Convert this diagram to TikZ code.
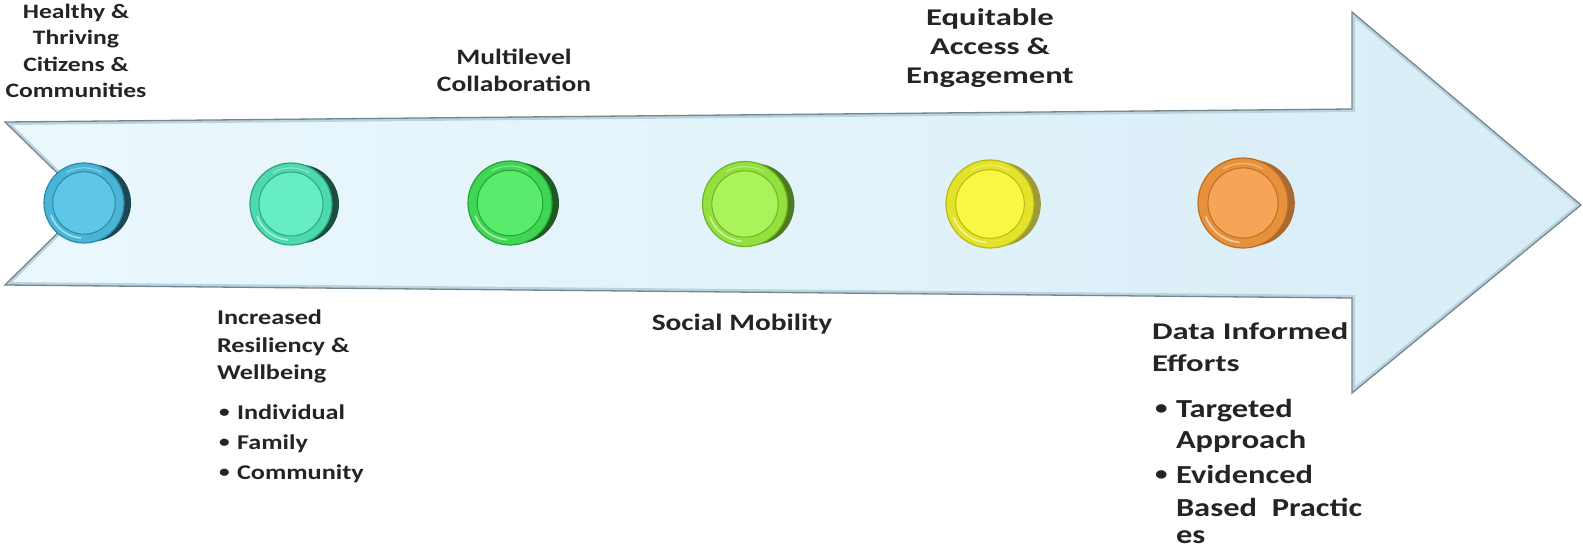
\documentclass[tikz,border=0pt]{standalone}
\usepackage{fontspec}
\setmainfont{Carlito}[FakeStretch=1.25]
\newfontfamily\wideface{Carlito}[FakeStretch=1.36]
\usetikzlibrary{shadows}

\definecolor{arrA}{HTML}{EBF8FD}
\definecolor{arrB}{HTML}{D8EDF7}
\definecolor{arrBand}{HTML}{B9D4E0}
\definecolor{arrEdge}{HTML}{75868E}
\definecolor{txt}{HTML}{242424}
% button colours: ring, face, edge, shadow
\definecolor{ringA}{HTML}{49B4D6}\definecolor{faceA}{HTML}{5EC6E6}\definecolor{edgeA}{HTML}{2C8AA8}\definecolor{shadA}{HTML}{1C4654}
\definecolor{ringB}{HTML}{4CD9AE}\definecolor{faceB}{HTML}{66EDC3}\definecolor{edgeB}{HTML}{2BA77F}\definecolor{shadB}{HTML}{1B4E3F}
\definecolor{ringC}{HTML}{3ED653}\definecolor{faceC}{HTML}{5AEB6C}\definecolor{edgeC}{HTML}{23A535}\definecolor{shadC}{HTML}{1F5A24}
\definecolor{ringD}{HTML}{93E03E}\definecolor{faceD}{HTML}{AAF35A}\definecolor{edgeD}{HTML}{6DB522}\definecolor{shadD}{HTML}{4F7A22}
\definecolor{ringE}{HTML}{E3E32A}\definecolor{faceE}{HTML}{F7F744}\definecolor{edgeE}{HTML}{B8B818}\definecolor{shadE}{HTML}{9C9A3A}
\definecolor{ringF}{HTML}{E8913C}\definecolor{faceF}{HTML}{F6A458}\definecolor{edgeF}{HTML}{C06D22}\definecolor{shadF}{HTML}{A86A34}

\newcommand\bulA{\makebox[19pt][l]{\hspace*{1pt}\raisebox{2.2pt}{\fontsize{17}{17}\selectfont\textbullet}}}
\newcommand\bulB{\makebox[22pt][l]{\hspace*{1pt}\raisebox{2.6pt}{\fontsize{20}{20}\selectfont\textbullet}}}
\newcommand\indB{\hspace*{22pt}}

\tikzset{
  lbl/.style={text=txt, inner sep=0pt, outer sep=0pt},
  btn/.style n args={5}{circle, minimum size=#1, inner sep=0pt,
    fill=#2, draw=#4, line width=1.2pt,
    general shadow={fill=#5, shadow xshift=9pt, shadow yshift=0pt, shadow scale=0.96},
    path picture={
      \fill[#3, draw=#4, line width=1pt] (path picture bounding box.center) circle (0.39*#1);
      \draw[white, opacity=0.55, line width=1.6pt] (path picture bounding box.center) ++(200:0.44*#1) arc (200:265:0.44*#1);
      \draw[white, opacity=0.35, line width=1.2pt] (path picture bounding box.center) ++(60:0.44*#1) arc (60:120:0.44*#1);
    }},
}

\begin{document}
\begin{tikzpicture}[x=1pt,y=-1pt]
\useasboundingbox (0,0) rectangle (1583,548);

% arrow outline points
\coordinate (p1) at (5,122);
\coordinate (p2) at (1352,109);
\coordinate (p3) at (1352,12);
\coordinate (p4) at (1581,205);
\coordinate (p5) at (1352,393);
\coordinate (p6) at (1352,298);
\coordinate (p7) at (5,285);
\coordinate (p8) at (88,203);

\shade[left color=arrA, right color=arrB]
  (p1) -- (p2) -- (p3) -- (p4) -- (p5) -- (p6) -- (p7) -- (p8) -- cycle;
\begin{scope}
  \clip (p1) -- (p2) -- (p3) -- (p4) -- (p5) -- (p6) -- (p7) -- (p8) -- cycle;
  \draw[arrBand, line width=6pt, line join=miter]
    (p1) -- (p2) -- (p3) -- (p4) -- (p5) -- (p6) -- (p7) -- (p8) -- cycle;
\end{scope}
\draw[arrEdge, line width=1.3pt, line join=miter]
  (p1) -- (p2) -- (p3) -- (p4) -- (p5) -- (p6) -- (p7) -- (p8) -- cycle;

% buttons
\node[btn={80pt}{ringA}{faceA}{edgeA}{shadA}] (b1) at (84,203) {};
\node[btn={82pt}{ringB}{faceB}{edgeB}{shadB}] (b2) at (291,204) {};
\node[btn={84pt}{ringC}{faceC}{edgeC}{shadC}] (b3) at (510,203) {};
\node[btn={85pt}{ringD}{faceD}{edgeD}{shadD}] (b4) at (745,204) {};
\node[btn={88pt}{ringE}{faceE}{edgeE}{shadE}] (b5) at (990,204) {};
\node[btn={90pt}{ringF}{faceF}{edgeF}{shadF}] (b6) at (1243,203) {};

% labels
\node[lbl, font=\fontsize{20.5}{26.5}\selectfont\bfseries, align=center, anchor=north] (t1) at (76,4)
  {Healthy \&\\Thriving\\Citizens \&\\Communities};

\node[lbl, font=\fontsize{21}{27.5}\selectfont\bfseries, align=left, anchor=north west] (t2) at (217,310)
  {Increased\\Resiliency \&\\Wellbeing};
\node[lbl, font=\fontsize{21}{30}\selectfont\bfseries, align=left, anchor=north west] (t2b) at (218,405)
  {\bulA Individual\\\bulA Family\\\bulA Community};

\node[lbl, font=\fontsize{22}{27}\selectfont\bfseries, align=center, anchor=north] (t3) at (514,49)
  {Multilevel\\Collaboration};

\node[lbl, font=\fontsize{23.5}{28}\selectfont\bfseries, anchor=base] (t4) at (742,330)
  {Social Mobility};

\node[lbl, font=\wideface\fontsize{24}{29}\selectfont\bfseries, align=center, anchor=north] (t5) at (990,9)
  {Equitable\\Access \&\\Engagement};

\node[lbl, font=\wideface\fontsize{24}{32}\selectfont\bfseries, align=left, anchor=north west] (t6) at (1152,323)
  {Data Informed\\Efforts};
\node[lbl, font=\fontsize{26}{31}\selectfont\bfseries, align=left, anchor=north west] (t6b) at (1154,399)
  {\bulB Targeted\\\indB Approach\\[4pt]\bulB Evidenced\\[2pt]\indB Based\ \ Practic\\[-4pt]\indB es};
\end{tikzpicture}
\end{document}
